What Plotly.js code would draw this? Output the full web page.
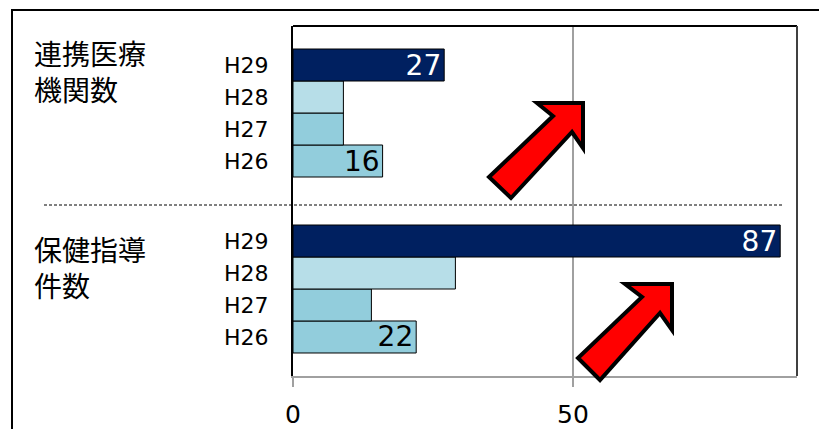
<!DOCTYPE html>
<html>
<head>
<meta charset="utf-8">
<script src="https://cdn.plot.ly/plotly-3.0.1.min.js"></script>
<style>html,body{margin:0;padding:0;background:#fff;}#chart{width:819px;height:429px;}</style>
</head>
<body>
<div id="chart"></div>
<script>
// ---- data ----
const years = ['H26', 'H27', 'H28', 'H29'];
const kikanValues = [16, 9, 9, 27];      // 連携医療機関数
const shidouValues = [22, 14, 29, 87];   // 保健指導件数
const showLabel = [true, false, false, true];
const groupTitles = ['連携医療<br>機関数', '保健指導<br>件数'];
const xTickVals = [0, 50];

// ---- styles ----
const barColors = ['#92CDDC', '#92CDDC', '#B7DEE8', '#002060'];
const textColors = ['#000000', '#000000', '#000000', '#FFFFFF'];
const W = 819, H = 429;
const M = {l: 293, r: 22, t: 26, b: 53};
const PW = W - M.l - M.r, PH = H - M.t - M.b;
const px = x => (x - M.l) / PW;
const py = y => (H - M.b - y) / PH;
const splitY = 205;
const split = py(splitY);

function barTrace(vals, yaxis) {
  return {
    type: 'bar', orientation: 'h',
    x: vals, y: years, yaxis: yaxis, xaxis: 'x',
    marker: {color: barColors, line: {color: '#000000', width: 1}},
    text: vals.map((v, i) => showLabel[i] ? String(v) : ''),
    textposition: 'inside', insidetextanchor: 'end',
    constraintext: 'none',
    textfont: {family: 'DejaVu Sans', size: 28, color: textColors},
    hoverinfo: 'skip', showlegend: false, cliponaxis: false
  };
}

function arrowPath(pts) {
  return 'M' + pts.map(p => px(p[0]).toFixed(5) + ',' + py(p[1]).toFixed(5)).join(' L') + ' Z';
}
const arrow1 = [[583,103],[537,103],[553,116],[489,177],[511,198],[572,132],[583,148]];
const arrow2 = [[672,284],[625,284],[642,297],[578,358],[600,380],[660,313],[672,330]];

const yTickFont = {family: 'DejaVu Sans', size: 22, color: '#000'};

const layout = {
  width: W, height: H,
  margin: M,
  paper_bgcolor: '#ffffff', plot_bgcolor: '#ffffff',
  bargap: 0,
  showlegend: false,
  xaxis: {
    range: [0, 90], tickvals: xTickVals, ticktext: xTickVals.map(String),
    showgrid: true, gridcolor: '#A0A0A0', gridwidth: 1.5,
    zeroline: false,
    showline: true, linecolor: '#A0A0A0', linewidth: 2,
    ticks: 'outside', ticklen: 9, tickcolor: '#A0A0A0', tickwidth: 2,
    tickfont: {family: 'DejaVu Sans', size: 25, color: '#000'},
    ticklabelstandoff: 6,
    anchor: 'y', fixedrange: true
  },
  yaxis: {
    domain: [0, split], range: [-1.219, 4.125],
    type: 'category', categoryorder: 'array', categoryarray: years,
    showline: true, linecolor: '#000', linewidth: 2,
    showgrid: false, zeroline: false, ticks: '',
    tickfont: yTickFont, ticklabelstandoff: 18,
    anchor: 'x', fixedrange: true
  },
  yaxis2: {
    domain: [split, 1], range: [-1.375, 4.219],
    type: 'category', categoryorder: 'array', categoryarray: years,
    showline: true, linecolor: '#000', linewidth: 2,
    showgrid: false, zeroline: false, ticks: '',
    tickfont: yTickFont, ticklabelstandoff: 18,
    anchor: 'x', fixedrange: true
  },
  annotations: [
    {text: groupTitles[0], xref: 'paper', yref: 'paper', x: px(32), y: py(71),
     xanchor: 'left', yanchor: 'middle', align: 'left', showarrow: false,
     font: {family: 'Noto Sans CJK JP', size: 28, color: '#000'}},
    {text: groupTitles[1], xref: 'paper', yref: 'paper', x: px(32), y: py(267),
     xanchor: 'left', yanchor: 'middle', align: 'left', showarrow: false,
     font: {family: 'Noto Sans CJK JP', size: 28, color: '#000'}}
  ],
  shapes: [
    // outer frame
    {type: 'rect', xref: 'paper', yref: 'paper', x0: px(12), x1: px(840), y0: py(10), y1: py(450),
     line: {color: '#000', width: 2}, fillcolor: 'rgba(0,0,0,0)', layer: 'above'},
    // plot top border
    {type: 'line', xref: 'paper', yref: 'paper', x0: 0, x1: 1, y0: 1, y1: 1,
     line: {color: '#000', width: 2}, layer: 'above'},
    // plot right border
    {type: 'line', xref: 'paper', yref: 'paper', x0: 1, x1: 1, y0: 0, y1: 1,
     line: {color: '#404040', width: 2}, layer: 'above'},
    // dashed separator
    {type: 'line', xref: 'paper', yref: 'paper', x0: px(44), x1: px(784), y0: split, y1: split,
     line: {color: '#000', width: 1, dash: '3px,2px'}, layer: 'above'},
    // arrows
    {type: 'path', xref: 'paper', yref: 'paper', path: arrowPath(arrow1),
     fillcolor: '#FF0000', line: {color: '#000', width: 4}, layer: 'above'},
    {type: 'path', xref: 'paper', yref: 'paper', path: arrowPath(arrow2),
     fillcolor: '#FF0000', line: {color: '#000', width: 4}, layer: 'above'}
  ]
};

Plotly.newPlot('chart', [barTrace(shidouValues, 'y'), barTrace(kikanValues, 'y2')], layout,
  {displayModeBar: false, staticPlot: true});
</script>
</body>
</html>
